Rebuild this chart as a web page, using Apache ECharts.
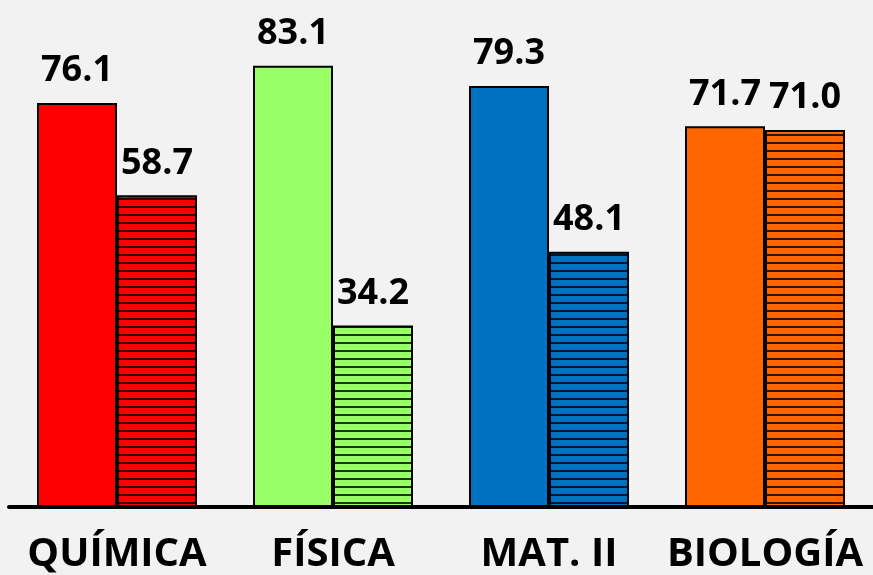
<!DOCTYPE html>
<html>
<head>
<meta charset="utf-8">
<script src="https://cdn.jsdelivr.net/npm/echarts@6/dist/echarts.min.js"></script>
<style>
  html, body { margin: 0; padding: 0; background: #F2F2F2; }
  #chart { width: 873px; height: 575px; }
</style>
</head>
<body>
<div id="chart"></div>
<script>
// Subjects and the two score series per subject
const categories = ['QUÍMICA', 'FÍSICA', 'MAT. II', 'BIOLOGÍA'];
const solidValues = [76.1, 83.1, 79.3, 71.7];
const hatchedValues = [58.7, 34.2, 48.1, 71.0];
const subjectColors = ['#FF0000', '#99FF66', '#0070C0', '#FF6600'];

// Horizontal-stripe fill used for the second bar of each subject
function stripePattern(color) {
  const c = document.createElement('canvas');
  c.width = 8; c.height = 8;
  const ctx = c.getContext('2d');
  ctx.fillStyle = color;
  ctx.fillRect(0, 0, 8, 8);
  ctx.fillStyle = 'rgba(0,0,0,0.8)';
  ctx.fillRect(0, 6, 8, 2);
  return { image: c, repeat: 'repeat' };
}

const labelStyle = {
  show: true,
  position: 'top',
  distance: 14,
  color: '#000',
  fontFamily: 'Open Sans',
  fontWeight: 'bold',
  fontSize: 36,
  formatter: p => p.value.toFixed(1)
};

const chart = echarts.init(document.getElementById('chart'));
chart.setOption({
  backgroundColor: '#F2F2F2',
  animation: false,
  grid: { left: 9, right: -6, top: 0, bottom: 67 },
  xAxis: {
    type: 'category',
    data: categories,
    axisLine: { lineStyle: { color: '#000', width: 4 } },
    axisTick: { show: false },
    axisLabel: {
      interval: 0,
      color: '#000',
      fontFamily: 'Open Sans',
      fontWeight: 'bold',
      fontSize: 40,
      margin: 28
    }
  },
  yAxis: {
    type: 'value',
    min: 0,
    max: 95.5,
    show: false,
    splitLine: { show: false }
  },
  series: [
    {
      type: 'bar',
      data: solidValues.map((v, i) => ({
        value: v,
        itemStyle: { color: subjectColors[i] }
      })),
      barWidth: 80,
      barGap: '0%',
      itemStyle: { borderColor: '#000', borderWidth: 2 },
      label: labelStyle
    },
    {
      type: 'bar',
      data: hatchedValues.map((v, i) => ({
        value: v,
        itemStyle: { color: stripePattern(subjectColors[i]) }
      })),
      barWidth: 80,
      barGap: '0%',
      itemStyle: { borderColor: '#000', borderWidth: 2 },
      label: labelStyle
    }
  ]
});
</script>
</body>
</html>
